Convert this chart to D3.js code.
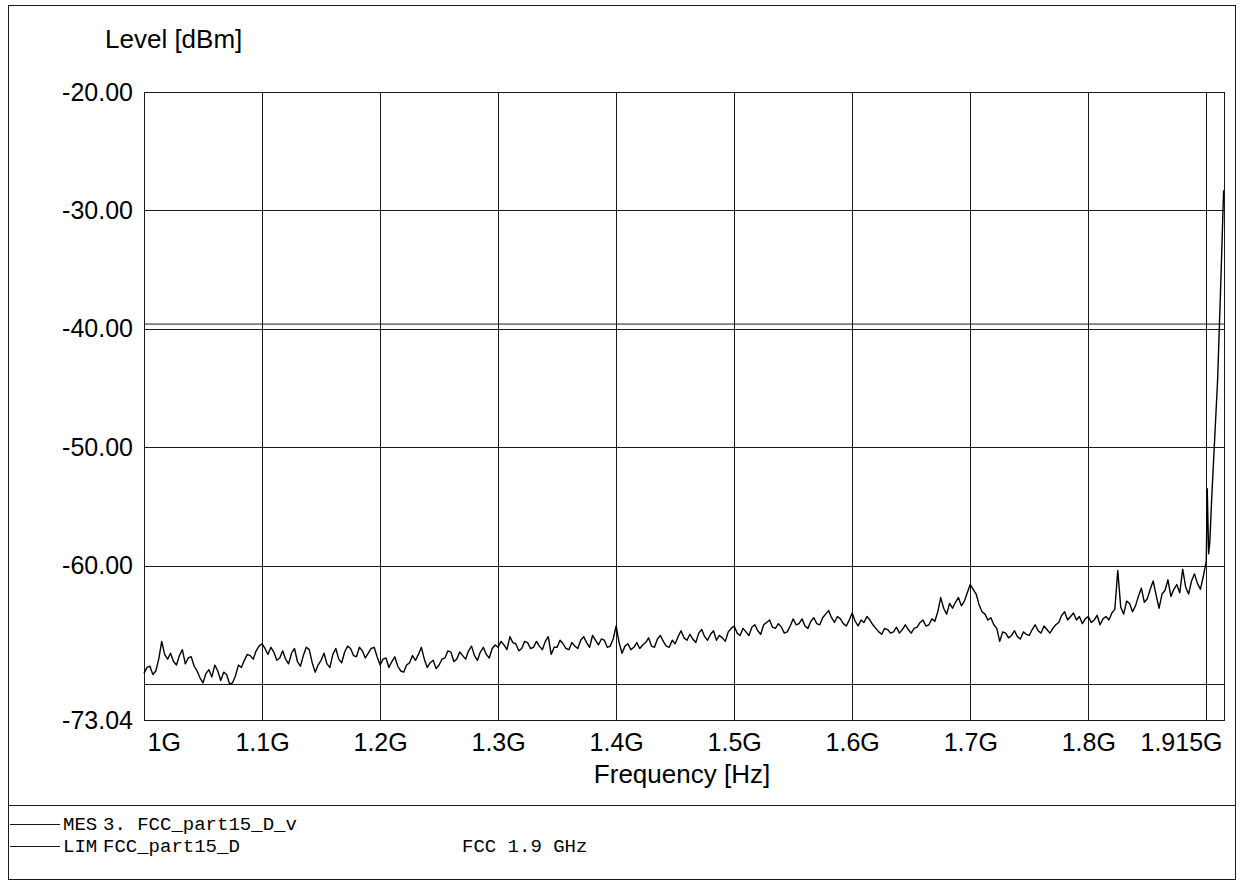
<!DOCTYPE html>
<html>
<head>
<meta charset="utf-8">
<script src="https://cdn.jsdelivr.net/npm/d3@7"></script>
<style>
  html, body { margin: 0; padding: 0; background: #fff; }
  svg { display: block; }
</style>
</head>
<body>
<svg id="chart" width="1243" height="889"></svg>
<script>
// ---------------- DATA ----------------
const xTickValuesGHz = [1.0, 1.1, 1.2, 1.3, 1.4, 1.5, 1.6, 1.7, 1.8, 1.915];
const xTickLabels = ["1G", "1.1G", "1.2G", "1.3G", "1.4G", "1.5G", "1.6G", "1.7G", "1.8G", "1.915G"];
const xGridGHz = [1.1, 1.2, 1.3, 1.4, 1.5, 1.6, 1.7, 1.8, 1.9];
const yTickValues = [-20, -30, -40, -50, -60, -73.04];
const yTickLabels = ["-20.00", "-30.00", "-40.00", "-50.00", "-60.00", "-73.04"];
const yGridValues = [-30, -40, -50, -60, -70];

// Measured trace (MES), sweep 1.000 GHz .. 1.900 GHz in 0.0025 GHz steps (one row = 50 MHz)
const sweepStartGHz = 1.0;
const sweepStepGHz = 0.0025;
const mesLevels = [
  -69.1,-68.6,-68.5,-69.2,-68.9,-67.9,-66.4,-67.5,-67.9,-67.4,-68.1,-68.4,-67.6,-67.1,-68.3,-67.8,-67.7,-68.5,-68.9,-69.5,
  -69.9,-69.1,-68.8,-69.4,-68.4,-68.9,-69.7,-69.0,-69.2,-70.0,-69.9,-69.3,-68.4,-68.6,-68.0,-67.5,-67.6,-67.9,-67.2,-66.8,
  -66.6,-67.0,-67.5,-66.9,-67.3,-68.0,-67.8,-67.2,-67.9,-68.3,-67.4,-67.0,-68.1,-68.5,-67.6,-66.9,-67.1,-68.2,-69.0,-68.4,
  -68.0,-67.4,-68.3,-68.6,-67.5,-67.0,-67.9,-68.2,-67.3,-66.8,-67.0,-67.6,-67.7,-66.9,-67.2,-67.8,-67.4,-67.0,-66.9,-67.7,
  -68.4,-67.9,-67.8,-68.6,-68.1,-67.7,-68.5,-68.9,-69.0,-68.4,-68.2,-67.6,-68.0,-67.5,-66.9,-67.9,-68.6,-68.2,-68.0,-68.7,
  -68.4,-67.9,-67.8,-67.2,-67.3,-68.1,-67.9,-67.3,-67.6,-67.9,-67.2,-66.8,-67.6,-68.0,-67.3,-66.9,-67.5,-67.8,-67.0,-66.7,
  -66.9,-66.4,-66.7,-67.1,-66.0,-66.5,-66.6,-67.2,-67.0,-66.4,-66.5,-67.0,-66.9,-66.4,-66.8,-67.1,-66.4,-66.0,-67.5,-66.9,
  -66.9,-66.3,-66.6,-67.0,-67.1,-66.5,-66.8,-67.0,-66.3,-66.0,-66.5,-66.9,-65.9,-66.3,-66.7,-66.2,-66.3,-66.9,-66.8,-66.2,
  -65.1,-66.5,-67.4,-66.8,-66.6,-67.1,-66.9,-66.5,-67.0,-66.7,-66.5,-66.1,-66.8,-66.9,-66.2,-65.9,-66.4,-66.8,-66.9,-66.3,
  -66.6,-66.0,-65.5,-66.1,-66.3,-65.8,-66.2,-66.5,-65.7,-65.4,-66.0,-66.3,-65.8,-65.5,-66.3,-65.9,-66.1,-66.4,-65.6,-65.3,
  -65.1,-65.7,-65.9,-65.3,-65.6,-65.9,-65.2,-65.0,-65.5,-65.8,-65.0,-64.8,-64.6,-65.2,-65.3,-64.9,-65.2,-65.7,-65.6,-65.1,
  -64.5,-65.0,-64.9,-64.5,-65.1,-65.3,-64.7,-64.4,-64.9,-65.0,-64.4,-64.1,-63.8,-64.4,-64.8,-64.3,-64.5,-64.9,-65.1,-64.6,
  -64.0,-64.7,-65.1,-64.6,-64.8,-64.3,-64.6,-65.0,-65.3,-65.6,-65.8,-65.3,-65.4,-65.7,-65.6,-65.2,-65.7,-65.4,-65.0,-65.4,
  -65.7,-65.3,-65.2,-64.8,-64.6,-65.1,-65.0,-64.5,-64.7,-63.9,-62.7,-63.6,-64.1,-63.2,-63.6,-63.1,-62.7,-63.4,-63.0,-62.3,
  -61.6,-62.0,-62.4,-63.3,-63.9,-64.1,-64.6,-64.4,-65.0,-65.3,-66.4,-65.6,-65.7,-66.1,-65.9,-65.5,-66.0,-66.2,-65.6,-65.8,
  -65.9,-65.4,-65.0,-65.5,-65.7,-65.1,-65.4,-65.7,-65.3,-65.0,-64.8,-64.2,-63.9,-64.6,-64.3,-64.0,-64.6,-64.3,-64.9,-64.5,
  -64.3,-64.8,-64.6,-64.2,-65.0,-64.5,-64.3,-64.6,-64.0,-63.7,-60.4,-63.5,-64.1,-63.0,-63.2,-63.9,-63.4,-62.6,-61.9,-63.1,
  -62.8,-62.0,-61.3,-62.5,-63.6,-62.4,-62.1,-61.2,-62.6,-62.0,-61.6,-62.3,-60.3,-61.8,-62.4,-61.3,-60.7,-61.5,-62.0,-60.9,
  -59.6
];
// band-edge rise above 1.900 GHz
const tailFreqGHz = [1.9008, 1.9020, 1.9030, 1.9045, 1.9070, 1.9096, 1.9120, 1.9147];
const tailLevels  = [-53.5, -59.0, -58.0, -54.5, -49.5, -44.3, -37.0, -28.3];

// Limit line (LIM)
const limFreqGHz = [1.0, 1.915];
const limLevels = [-39.6, -39.6];

const legendKeys = ["MES", "LIM"];
const legendNames = ["3. FCC_part15_D_v", "FCC_part15_D"];
const legendExtra = ["", "FCC 1.9 GHz"];

// ---------------- CHART ----------------
const svg = d3.select("#chart");
const ink = "#1a1a1a";
const sans = "'Liberation Sans', Arial, sans-serif";
const mono = "'Liberation Mono', 'Courier New', monospace";

const plot = { left: 144, top: 92, right: 1224, bottom: 720 };

const x = d3.scaleLinear().domain([1.0, 1.915]).range([plot.left, plot.right]);
const y = d3.scaleLinear().domain([-73.04, -20]).range([plot.bottom, plot.top]);

// outer frame and legend separator
svg.append("rect").attr("x", 8.5).attr("y", 5.5).attr("width", 1227).attr("height", 874)
  .attr("fill", "none").attr("stroke", ink).attr("stroke-width", 1);
svg.append("line").attr("x1", 8).attr("x2", 1236).attr("y1", 805.5).attr("y2", 805.5)
  .attr("stroke", ink).attr("stroke-width", 1);

// grid
const g = svg.append("g");
g.selectAll("line.vg").data(xGridGHz).join("line")
  .attr("x1", d => Math.round(x(d)) + 0.5).attr("x2", d => Math.round(x(d)) + 0.5)
  .attr("y1", plot.top).attr("y2", plot.bottom)
  .attr("stroke", ink).attr("stroke-width", 1);
g.selectAll("line.hg").data(yGridValues).join("line")
  .attr("y1", d => Math.round(y(d)) + 0.5).attr("y2", d => Math.round(y(d)) + 0.5)
  .attr("x1", plot.left).attr("x2", plot.right)
  .attr("stroke", ink).attr("stroke-width", 1);
g.append("rect")
  .attr("x", plot.left + 0.5).attr("y", plot.top + 0.5)
  .attr("width", plot.right - plot.left).attr("height", plot.bottom - plot.top)
  .attr("fill", "none").attr("stroke", ink).attr("stroke-width", 1);

// axes labels via d3 axes (tick lines hidden)
const yAxis = d3.axisLeft(y).tickValues(yTickValues)
  .tickFormat((d, i) => yTickLabels[i]).tickSize(0).tickPadding(11);
const ya = svg.append("g").attr("transform", `translate(${plot.left},0)`).call(yAxis);
ya.select(".domain").remove();
ya.selectAll("text").attr("font-family", sans).attr("font-size", 25).attr("fill", "#000");

const xAxis = d3.axisBottom(x).tickValues(xTickValuesGHz)
  .tickFormat((d, i) => xTickLabels[i]).tickSize(0).tickPadding(13);
const xa = svg.append("g").attr("transform", `translate(0,${plot.bottom})`).call(xAxis);
xa.select(".domain").remove();
xa.selectAll("text").attr("font-family", sans).attr("font-size", 25).attr("fill", "#000")
  .attr("text-anchor", (d, i) => i === 0 ? "start" : (i === xTickValuesGHz.length - 1 ? "end" : "middle"))
  .attr("dx", (d, i) => i === 0 ? 3 : (i === xTickValuesGHz.length - 1 ? -2 : 0));

// titles
svg.append("text").attr("x", 105).attr("y", 48)
  .attr("font-family", sans).attr("font-size", 26).attr("fill", "#000").text("Level [dBm]");
svg.append("text").attr("x", 682).attr("y", 783).attr("text-anchor", "middle")
  .attr("font-family", sans).attr("font-size", 26).attr("fill", "#000").text("Frequency [Hz]");

// data lines
const mesData = mesLevels.map((v, i) => ({ f: sweepStartGHz + i * sweepStepGHz, v }))
  .concat(tailLevels.map((v, i) => ({ f: tailFreqGHz[i], v })));
const limData = limLevels.map((v, i) => ({ f: limFreqGHz[i], v }));
const line = d3.line().x(d => x(d.f)).y(d => y(d.v));

svg.append("path").datum(limData).attr("d", line)
  .attr("fill", "none").attr("stroke", ink).attr("stroke-width", 1);
svg.append("path").datum(mesData).attr("d", line)
  .attr("fill", "none").attr("stroke", "#000").attr("stroke-width", 1.4)
  .attr("stroke-linejoin", "round");

// legend
const lg = svg.append("g");
legendKeys.forEach((k, i) => {
  const yy = 830 + i * 22;
  lg.append("line").attr("x1", 10).attr("x2", 60).attr("y1", yy - 5.5).attr("y2", yy - 5.5)
    .attr("stroke", ink).attr("stroke-width", 1);
  lg.append("text").attr("x", 63).attr("y", yy).attr("font-family", mono).attr("font-size", 19)
    .attr("fill", "#000").text(k);
  lg.append("text").attr("x", 103).attr("y", yy).attr("font-family", mono).attr("font-size", 19)
    .attr("fill", "#000").text(legendNames[i]);
  if (legendExtra[i]) {
    lg.append("text").attr("x", 462).attr("y", yy).attr("font-family", mono).attr("font-size", 19)
      .attr("fill", "#000").text(legendExtra[i]);
  }
});
</script>
</body>
</html>
